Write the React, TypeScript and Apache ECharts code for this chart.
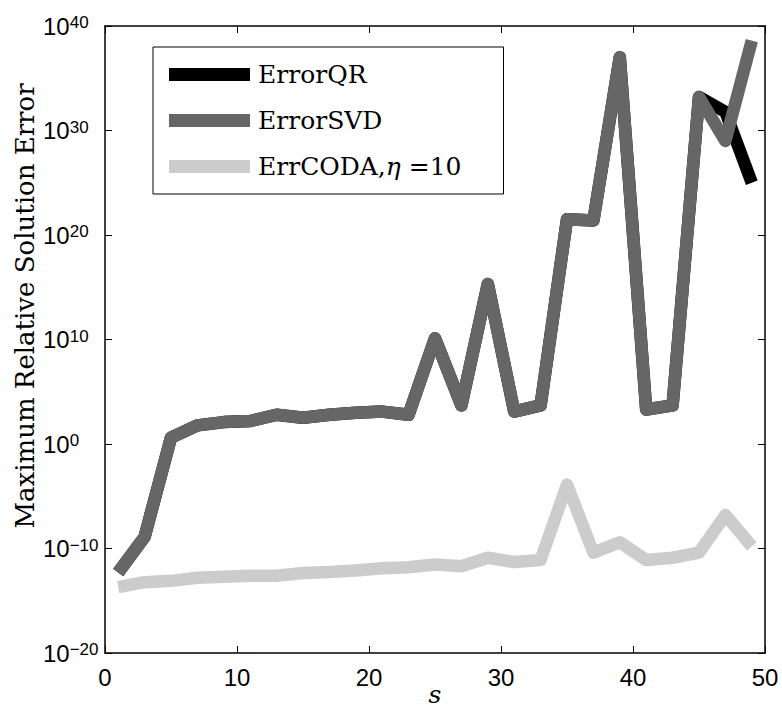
import React, { useEffect, useRef } from "react";
import * as echarts from "echarts";

// Block size s (odd values 1..49)
const sValues = [1, 3, 5, 7, 9, 11, 13, 15, 17, 19, 21, 23, 25, 27, 29, 31, 33, 35, 37, 39, 41, 43, 45, 47, 49];

// Maximum relative solution error for each method
const errorQR = [
  5e-13, 1.3e-9, 4, 60, 125, 160, 630, 320, 630, 1000, 1260, 630, 1.3e10,
  5000, 2e15, 1260, 5000, 3.2e21, 2.5e21, 1e37, 2000, 5000, 1.6e33, 6e31, 1e25,
];
const errorSVD = [
  5e-13, 1.3e-9, 4, 60, 125, 160, 630, 320, 630, 1000, 1260, 630, 1.3e10,
  5000, 2e15, 1260, 5000, 3.2e21, 2.5e21, 1e37, 2000, 5000, 1.6e33, 1e29, 4e38,
];
const errCODA = [
  2e-14, 6e-14, 8e-14, 1.6e-13, 2e-13, 2.5e-13, 2.5e-13, 4.5e-13, 5.6e-13, 8e-13,
  1.3e-12, 1.6e-12, 3e-12, 2e-12, 1.3e-11, 5e-12, 8e-12, 1.3e-4, 4e-11, 4e-10,
  8e-12, 1.3e-11, 4e-11, 1.6e-7, 1.6e-10,
];

const seriesNames = ["ErrorQR", "ErrorSVD", "ErrCODA,η =10"];
const seriesColors = ["#000000", "#666666", "#cccccc"];
const seriesData = [errorQR, errorSVD, errCODA];

const X_MIN = 0;
const X_MAX = 50;
const X_STEP = 10;
const Y_MIN = 1e-20;
const Y_MAX = 1e40;

const yTitle = "Maximum Relative Solution Error";
const xTitle = "s";

const SERIF = "'DejaVu Serif', serif";
const SANS = "'Liberation Sans', Arial, sans-serif";

export default function App() {
  const ref = useRef<HTMLDivElement>(null);

  useEffect(() => {
    document.body.style.margin = "0";
    if (!ref.current) return;
    const chart = echarts.init(ref.current, undefined, { renderer: "svg" });

    const frameLine = { show: true, onZero: false, lineStyle: { color: "#000", width: 1.5 } };
    const innerTick = { show: true, inside: true, length: 7, lineStyle: { color: "#000", width: 1 } };

    const supLabel = (v: number) => {
      const e = Math.round(Math.log10(v));
      const t = e < 0 ? "−" + Math.abs(e) : String(e);
      return `{b|10}{s|${t}}`;
    };

    chart.setOption({
      animation: false,
      backgroundColor: "#ffffff",
      grid: {
        left: 105,
        right: 17,
        top: 26,
        bottom: 56,
        containLabel: false,
        outerBoundsMode: "none",
      },
      legend: {
        show: true,
        orient: "vertical",
        left: 153,
        top: 47,
        padding: [15, 42, 15, 16],
        itemGap: 21,
        itemWidth: 81,
        itemHeight: 13,
        icon: "rect",
        selectedMode: false,
        backgroundColor: "#ffffff",
        borderColor: "#000000",
        borderWidth: 1,
        data: seriesNames,
        textStyle: {
          fontFamily: SERIF,
          fontSize: 25,
          lineHeight: 25,
          color: "#000",
          padding: [0, 0, 0, 3],
          rich: {
            i: { fontFamily: SERIF, fontSize: 25, fontStyle: "italic", color: "#000" },
          },
        },
        formatter: (name: string) => name.replace("η", "{i|η}"),
      },
      xAxis: [
        {
          type: "value",
          position: "bottom",
          min: X_MIN,
          max: X_MAX,
          interval: X_STEP,
          axisLine: frameLine,
          axisTick: innerTick,
          splitLine: { show: false },
          axisLabel: {
            margin: 12,
            fontFamily: SANS,
            fontSize: 24,
            color: "#000",
          },
        },
        {
          type: "value",
          position: "top",
          min: X_MIN,
          max: X_MAX,
          interval: X_STEP,
          axisLine: frameLine,
          axisTick: innerTick,
          axisLabel: { show: false },
          splitLine: { show: false },
        },
      ],
      yAxis: [
        {
          type: "log",
          logBase: 10,
          position: "left",
          min: Y_MIN,
          max: Y_MAX,
          splitNumber: 5,
          axisLine: frameLine,
          axisTick: innerTick,
          splitLine: { show: false },
          minorTick: { show: false },
          axisLabel: {
            margin: 62,
            align: "left",
            formatter: supLabel,
            rich: {
              b: {
                fontFamily: SANS,
                fontSize: 24,
                lineHeight: 24,
                color: "#000",
                verticalAlign: "bottom",
                padding: [8, 0, 0, 0],
              },
              s: {
                fontFamily: SANS,
                fontSize: 17,
                lineHeight: 17,
                color: "#000",
                verticalAlign: "top",
              },
            },
          },
        },
        {
          type: "log",
          logBase: 10,
          position: "right",
          min: Y_MIN,
          max: Y_MAX,
          splitNumber: 5,
          axisLine: frameLine,
          axisTick: innerTick,
          axisLabel: { show: false },
          splitLine: { show: false },
          minorTick: { show: false },
        },
      ],
      graphic: [
        {
          type: "text",
          x: 25,
          y: 306,
          rotation: Math.PI / 2,
          style: {
            text: yTitle,
            fontFamily: SERIF,
            fontSize: 26,
            fill: "#000",
            align: "center",
            verticalAlign: "middle",
          },
        },
        {
          type: "text",
          x: 435,
          y: 694,
          style: {
            text: xTitle,
            fontFamily: SERIF,
            fontStyle: "italic",
            fontSize: 25,
            fill: "#000",
            align: "center",
            verticalAlign: "middle",
          },
        },
      ],
      series: seriesNames.map((name, k) => ({
        name,
        type: "line",
        xAxisIndex: 0,
        yAxisIndex: 0,
        showSymbol: false,
        symbol: "none",
        color: seriesColors[k],
        lineStyle: { color: seriesColors[k], width: 12.5, cap: "butt", join: "round" },
        data: sValues.map((s, i) => [s, seriesData[k][i]]),
        z: 2 + k,
      })),
    });

    return () => chart.dispose();
  }, []);

  return <div ref={ref} style={{ width: 782, height: 709 }} />;
}
